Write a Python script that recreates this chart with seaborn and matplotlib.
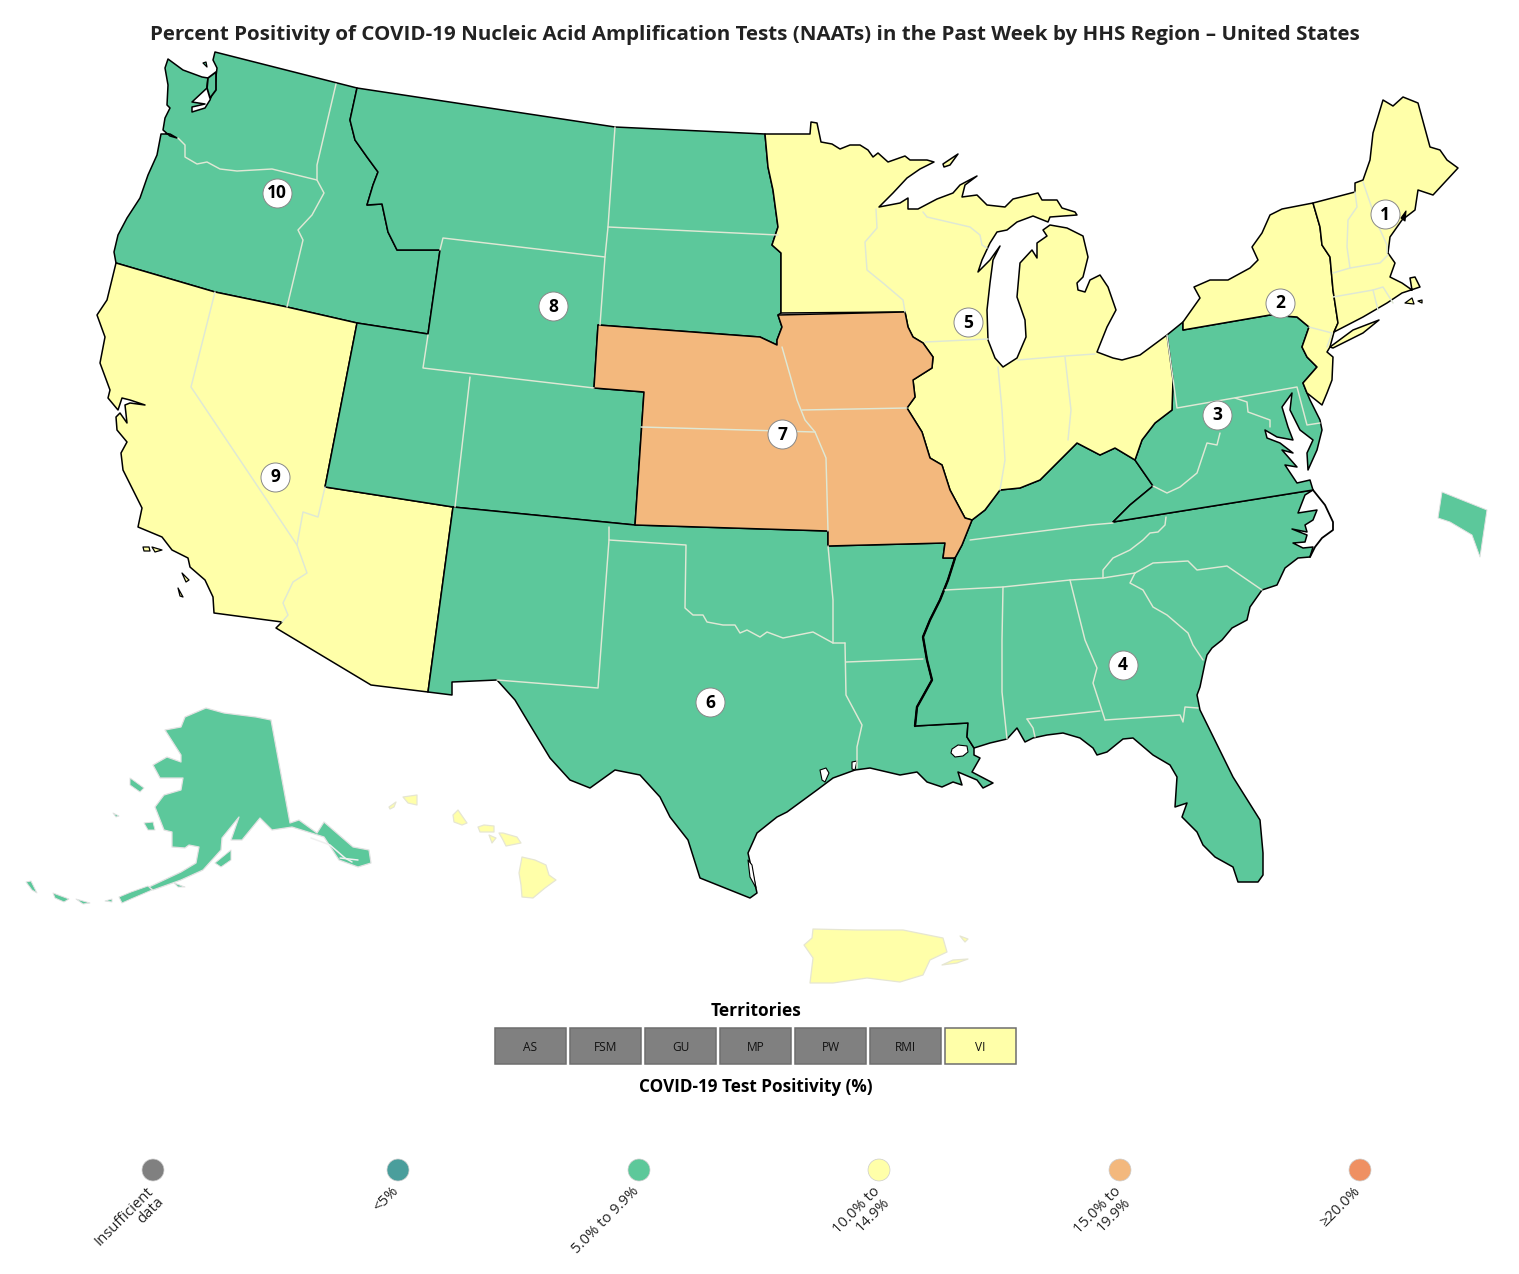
import matplotlib
matplotlib.use("Agg")
import matplotlib.pyplot as plt
from matplotlib.patches import Rectangle
import pandas as pd
import seaborn as sns

TITLE = "Percent Positivity of COVID-19 Nucleic Acid Amplification Tests (NAATs) in the Past Week by HHS Region – United States"
GREEN, YELLOW, ORANGE, GREY = "#5cc89b", "#ffffa9", "#f3b87d", "#808080"

# shared borders
nw_coast = [(116,263),(114,252),(118,235),(127,218),(140,198),(148,175),(157,155),(161,134),(170,134),(177,138),(170,136),(163,130),(165,118),(170,108),(167,105),(168,85),(165,68),(168,59),(183,70),(202,77),(208,78),(207,88),(192,102),(205,104),(192,107),(192,112),(205,108),(210,100),(215,85),(217,68),(213,60),(215,52)]
id_mt = [(357,88),(350,120),(355,140),(367,157),(378,172),(373,185),(367,205),(382,204),(388,232),(397,250),(428,250),(440,250)]
r10_south = [(428,334),(357,323),(287,307),(215,292),(116,263)]
sd_east = [(765,134),(768,167),(773,190),(778,227),(772,245),(781,253),(781,313)]
ne_north = [(598,325),(760,337),(777,345)]
ia_nw = [(777,345),(777,340),(782,327),(778,315)]
mo_east = [(905,312),(908,327),(913,337),(923,343),(933,357),(932,368),(913,380),(915,397),(907,408),(922,432),(930,458),(942,465),(950,490),(965,518),(972,520)]
bootheel = [(972,520),(962,545),(955,558),(943,558),(945,543)]
ohio_river = [(972,520),(985,510),(1000,490),(1020,488),(1040,480),(1060,460),(1077,443),(1100,455),(1115,448),(1135,460)]
ky_va = [(1135,460),(1153,486),(1130,505),(1113,522)]
va_nc = [(1113,522),(1313,490)]
miss_river = [(955,558),(948,580),(940,600),(930,620),(923,637),(927,660),(932,680),(917,707),(915,726)]
wv_oh = [(1135,460),(1142,440),(1155,423),(1172,410),(1173,380),(1167,335)]
pa_ny = [(1183,322),(1183,330),(1270,315),(1297,317),(1309,327)]
pa_nj = [(1309,327),(1302,347),(1307,357),(1317,367),(1303,383),(1307,393)]
ne_west = [(1313,203),(1320,227),(1322,245),(1330,257),(1333,290),(1338,323),(1334,332)]

mn_north = [(765,134),(810,134),(811,122),(817,123),(821,142),(832,144),(840,149),(850,145),(860,145),(868,150),(873,157),(878,153),(888,162),(905,156),(910,160),(927,160),(934,162),(920,169),(907,178),(893,193),(879,207)]
great_lakes = [(900,203),(908,198),(908,209),(918,209),(937,199),(953,193),(960,185),(977,176),(965,185),(962,197),(977,195),(987,205),(1005,207),(1013,199),(1038,193),(1042,200),(1057,200),(1062,208),(1075,212),(1077,215),(1050,217),(1048,222),(1033,216),(1017,222),(1007,230),(997,232),(990,243),(982,260),(978,272),(990,260),(1000,246),(993,260),(990,283),(987,310),(988,340),(995,358),(1003,367),(1017,358),(1026,337),(1025,320),(1017,297),(1020,263),(1032,250),(1037,258),(1037,243),(1047,236),(1043,230),(1050,225),(1067,228),(1083,236),(1088,257),(1083,277),(1077,283),(1078,290),(1085,292),(1090,280),(1100,275),(1108,287),(1116,310),(1107,327),(1097,352),(1113,358),(1122,360),(1140,355),(1167,335)]
isle_royale = [(943,164),(958,154),(950,165),(944,167)]

ca_coast = [(116,263),(107,300),(97,315),(105,337),(100,363),(110,390),(108,398),(118,410),(122,398),(130,400),(145,405),(130,403),(125,405),(127,423),(120,413),(116,417),(117,430),(127,442),(121,453),(123,470),(138,500),(142,508),(138,527),(162,537),(172,550),(188,558),(190,567),(205,580),(213,597),(214,613),(282,622),(276,628)]
gulf_tx_la = [(968,723),(967,737),(974,748),(974,755),(980,758),(972,772),(993,783),(983,788),(977,780),(958,772),(962,785),(953,782),(942,787),(927,782),(917,772),(900,775),(870,768),(855,770),(833,778),(817,790),(787,812),(777,817),(757,833),(748,853),(757,893),(750,898),(730,890),(700,878),(688,840),(670,817),(660,797),(640,775),(615,770),(590,788),(570,780),(550,758),(530,725),(515,700),(497,680),(452,682),(452,695),(428,692)]
se_coast = [(1313,490),(1305,495),(1298,513),(1317,510),(1313,520),(1305,525),(1307,532),(1292,529),(1307,535),(1305,542),(1293,543),(1303,548),(1313,547),(1310,557),(1298,558),(1285,568),(1277,585),(1262,590),(1250,607),(1247,620),(1232,628),(1222,640),(1212,648),(1207,655),(1205,663),(1200,687),(1197,695),(1200,710),(1233,777),(1260,820),(1263,853),(1263,875),(1258,882),(1238,882),(1233,867),(1215,857),(1203,845),(1197,832),(1182,817),(1187,803),(1175,807),(1177,777),(1170,765),(1153,755),(1133,738),(1123,739),(1107,752),(1097,755),(1093,748),(1080,738),(1063,733),(1047,735),(1033,738),(1025,742),(1017,728),(1007,739),(990,743),(974,748),(967,737),(968,723)]
outer_banks = [(1313,490),(1325,505),(1333,522),(1333,530),(1322,538),(1315,547),(1310,557)]
lake_pontchartrain = [(952,749),(958,745),(967,746),(968,752),(963,756),(955,757),(951,753)]
galveston_bay = [(820,770),(826,768),(829,773),(825,782),(822,780)]
sabine_lake = [(852,762),(857,761),(855,770),(852,769)]
padre_lagoon = [(748,860),(752,865),(756,888),(750,877)]
ca_islands = [[(143,547),(149,547),(150,551),(144,551)],[(152,547),(162,550),(155,552)],[(182,573),(189,580),(186,582)],[(178,588),(183,597),(180,596)]]
wa_island = [(203,63),(206,62),(207,67)]
puget_islands = [(208,78),(216,72),(216,90),(210,98),(207,88)]

ny_nj = [(1183,322),(1200,298),(1194,287),(1210,280),(1228,280),(1250,268),(1258,260),(1252,247),(1262,233),(1270,215),(1282,209)]
nj_coast = [(1334,332),(1330,347),(1327,352),(1333,357),(1332,380),(1327,393),(1322,405)]
long_island = [(1330,347),(1353,330),(1379,320),(1363,333),(1333,348)]
new_england = [(1363,317),(1387,303),(1402,293),(1420,287),(1415,277),(1410,278),(1412,290),(1402,283),(1390,277),(1395,263),(1388,253),(1390,237),(1402,220),(1415,210),(1418,190),(1433,195),(1458,168),(1447,160),(1440,150),(1430,147),(1418,103),(1403,97),(1393,106),(1383,100),(1373,133),(1370,160),(1363,180),(1355,183),(1355,192)]
ne_islands = [[(1405,303),(1412,298),(1414,304)],[(1418,301),(1422,300),(1422,303)]]
penobscot = [(1401,218),(1406,211),(1405,221)]
mid_atlantic = [(1310,400),(1320,420),(1322,430),(1317,450),(1308,470),(1307,453),(1313,440),(1300,430),(1290,410),(1292,393),(1282,407),(1288,427),(1293,440),(1277,437),(1265,430),(1267,438),(1280,443),(1293,453),(1282,450),(1297,467),(1285,465),(1297,483),(1310,480)]

region10 = nw_coast + id_mt + r10_south
region9 = ca_coast + [(371,685),(428,692),(453,507),(325,487),(357,323),(287,307),(215,292)]
region8 = [(357,88),(615,127)] + sd_east + ia_nw[::-1] + ne_north[::-1] + [(594,388),(644,392),(635,525),(453,507),(325,487),(357,323),(428,334),(440,250)] + id_mt[::-1]
region7 = ne_north + ia_nw + mo_east + bootheel[1:] + [(828,546),(828,531),(635,525),(644,392),(594,388)]
region6 = [(453,507),(635,525),(828,531),(828,546),(945,543),(943,558)] + miss_river + gulf_tx_la
region5 = mn_north + great_lakes + wv_oh[::-1] + ohio_river[::-1] + mo_east[::-1] + sd_east[::-1]
region4 = se_coast + [(915,726)] + miss_river[::-1] + [(962,545)] + ohio_river + ky_va
region3 = pa_ny + pa_nj + mid_atlantic + va_nc[::-1] + ky_va[::-1][:-1] + wv_oh
region2 = ny_nj + ne_west + nj_coast + pa_nj[::-1] + pa_ny[::-1]
region1 = ne_west + new_england

alaska = [(271,720),(290,823),(299,820),(317,833),(324,822),(353,847),(369,850),(371,863),(358,867),(339,860),(324,837),(292,827),(272,830),(260,818),(242,840),(231,840),(239,817),(222,838),(221,850),(203,870),(181,880),(153,890),(149,887),(181,872),(196,863),(199,847),(189,845),(185,848),(172,847),(172,832),(164,830),(155,807),(164,795),(181,790),(183,778),(160,778),(153,765),(167,757),(181,762),(181,755),(165,730),(181,727),(185,717),(206,708),(224,713),(256,717)]
alaska_islands = [
    [(130,778),(133,780),(144,788),(140,792),(130,785)],
    [(144,823),(153,822),(155,830),(148,830)],
    [(215,863),(231,850),(231,860),(221,867)],
    [(53,893),(69,899),(64,902),(55,898)],
    [(76,899),(90,903),(83,904)],
    [(119,897),(131,892),(148,886),(152,890),(131,899),(122,903)],
    [(26,882),(31,881),(37,893),(32,890)],
    [(174,883),(185,887),(178,887)],
    [(105,901),(112,899),(112,902)],
    [(113,813),(119,816),(116,817)],
]
alaska_channels = [[(311,838),(330,845),(345,858),(352,862)],[(340,858),(358,860)]]
hawaii = [
    [(522,857),(535,860),(546,865),(549,875),(556,880),(545,888),(533,898),(522,897),(521,885),(519,873)],
    [(499,833),(503,833),(517,837),(521,843),(506,846),(503,840)],
    [(478,827),(484,825),(494,826),(494,832),(480,832)],
    [(489,835),(496,838),(492,843)],
    [(453,815),(458,810),(467,823),(462,825),(454,822)],
    [(403,797),(417,795),(417,805),(408,803)],
    [(389,807),(396,802),(394,807),(390,809)],
]
puerto_rico = [
    [(813,929),(857,930),(903,930),(943,938),(947,952),(930,960),(923,975),(900,982),(867,978),(833,983),(810,983),(813,958),(804,945),(812,938)],
    [(942,965),(953,960),(968,959),(957,963)],
    [(960,936),(968,939),(965,942)],
]
dc_inset = [(1442,492),(1487,510),(1480,557),(1472,535),(1450,522),(1438,518)]

state_lines = [
    [(178,138),(185,145),(185,157),(197,164),(207,162),(220,169),(237,171),(272,169),(317,180)],
    [(317,180),(324,193),(312,215),(298,230),(303,240),(287,307)],
    [(336,84),(317,165),(317,179)],
    [(215,292),(191,387),(297,545),(307,573),(293,582),(283,603),(288,615),(282,622)],
    [(325,487),(318,517),(303,512),(297,545)],
    [(615,127),(608,227),(605,257),(600,325)],
    [(608,227),(778,235)],
    [(440,250),(443,238),(605,257)],
    [(428,335),(423,368),(594,388)],
    [(470,377),(455,507)],
    [(641,427),(815,432)],
    [(782,347),(790,375),(797,400),(805,420),(815,432),(826,458),(828,531)],
    [(802,410),(907,408)],
    [(609,527),(609,540),(598,688),(497,680)],
    [(609,540),(686,545),(685,608),(693,615),(703,615),(707,622),(723,625),(735,625),(740,633),(747,630),(760,637),(767,632),(783,638),(813,632),(833,643),(845,643)],
    [(828,546),(833,600),(833,643)],
    [(846,662),(923,659)],
    [(845,643),(846,695),(862,725),(857,747),(857,768)],
    [(945,590),(1003,587),(1070,580),(1103,578),(1135,573)],
    [(970,540),(1090,525),(1113,523)],
    [(1166,517),(1165,525),(1158,532),(1150,533),(1143,540),(1130,550),(1113,558),(1103,570),(1103,578)],
    [(1003,587),(1002,640),(1002,692),(1007,739)],
    [(1070,580),(1085,640),(1097,668),(1093,683),(1105,720)],
    [(1027,719),(1100,711)],
    [(1027,719),(1033,728),(1035,737)],
    [(1105,720),(1180,715),(1183,722),(1185,707),(1198,708)],
    [(1135,573),(1153,563),(1188,561),(1197,570),(1227,566),(1262,590)],
    [(1135,573),(1130,583),(1143,590),(1153,607),(1167,615),(1188,633),(1193,645),(1203,660)],
    [(1167,335),(1177,408),(1297,387),(1307,425),(1320,423)],
    [(1235,398),(1247,402),(1248,412),(1270,420),(1270,427)],
    [(1220,433),(1217,445),(1207,443),(1197,473),(1180,487),(1167,493),(1153,486)],
    [(925,342),(988,339)],
    [(923,212),(927,217),(970,227),(980,235),(982,245),(987,248)],
    [(876,209),(877,228),(865,242),(867,270),(883,283),(903,300),(905,312)],
    [(998,367),(1002,410),(1005,460),(1000,490)],
    [(1065,357),(1071,410),(1068,440)],
    [(1018,360),(1065,356),(1095,354)],
    [(1355,192),(1357,207),(1348,220),(1347,247),(1350,268)],
    [(1333,273),(1350,268),(1380,263),(1388,255)],
    [(1363,182),(1377,223),(1387,245),(1387,253)],
    [(1333,297),(1373,290),(1383,287),(1393,303)],
    [(1373,290),(1378,310)],
    [(1309,327),(1332,333),(1327,347)],
]

region_ids = ["1","2","3","4","5","6","7","8","9","10"]
region_x = [1385,1280,1217,1123,968,710,782,553,275,277]
region_y = [214,303,415,665,322,702,434,306,477,193]

territories = ["AS","FSM","GU","MP","PW","RMI","VI"]
territory_colors = [GREY,GREY,GREY,GREY,GREY,GREY,YELLOW]
territory_x = [495,570,645,720,795,870,945]

legend_labels = ["Insufficient\ndata","<5%","5.0% to 9.9%","10.0% to\n14.9%","15.0% to\n19.9%","≥20.0%"]
legend_colors = ["#808080","#4a9e9c","#5dc89a","#ffffa9","#f3b87d","#ef9062"]
legend_x = [153,398,639,879,1120,1360]
legend_y = [1170]*6

sns.set_theme(style="white")
plt.rcParams["font.family"] = ["Open Sans","DejaVu Sans"]

fig = plt.figure(figsize=(15.19,12.74), dpi=100, facecolor="white")
ax = fig.add_axes([0,0,1,1])
ax.set_xlim(0,1519); ax.set_ylim(1274,0); ax.axis("off")

def poly(points, color, edge="black", lw=1.1, z=2):
    xs, ys = zip(*points)
    ax.fill(xs, ys, facecolor=color, edgecolor=edge, linewidth=lw, joinstyle="round", zorder=z)

for p, c in [(region10,GREEN),(region9,YELLOW),(region8,GREEN),(region6,GREEN),(region4,GREEN),(region3,GREEN),(region5,YELLOW),(region7,ORANGE),(region2,YELLOW),(long_island,YELLOW),(region1,YELLOW),(isle_royale,YELLOW)]:
    poly(p, c)
for p in ca_islands + ne_islands:
    poly(p, YELLOW, lw=0.9)
poly(wa_island, GREEN, lw=0.9)
poly(puget_islands, GREEN, lw=1.3)
poly(penobscot, "black", lw=0.8)
for p in [lake_pontchartrain, galveston_bay, sabine_lake, padre_lagoon]:
    poly(p, "white", lw=0.8, z=2.5)

for border, width in [(miss_river,1.7),(outer_banks,1.3)]:
    xs, ys = zip(*border)
    ax.plot(xs, ys, color="black", lw=width, zorder=2.6)

for line in state_lines:
    xs, ys = zip(*line)
    ax.plot(xs, ys, color="#dfe8d5", lw=1.05, zorder=3, solid_capstyle="round")

poly(alaska, GREEN, edge="#e2e2e2", lw=0.9)
for p in alaska_islands:
    poly(p, GREEN, edge="#e2e2e2", lw=0.7)
for line in alaska_channels:
    xs, ys = zip(*line)
    ax.plot(xs, ys, color="#f0f0f0", lw=1.1, zorder=3)
for p in hawaii + puerto_rico:
    poly(p, YELLOW, edge="#e6e6d2", lw=0.9)
poly(dc_inset, GREEN, edge="#e2e2e2", lw=0.7)

regions = pd.DataFrame({"id":region_ids,"x":region_x,"y":region_y})
sns.scatterplot(data=regions, x="x", y="y", s=436, color="white", edgecolor="#888888", linewidth=0.7, ax=ax, zorder=5, legend=False)
for _, r in regions.iterrows():
    ax.text(r.x, r.y+0.5, r.id, ha="center", va="center", fontsize=12.5, fontweight="bold", color="black", zorder=6)

ax.text(755, 35, TITLE, ha="center", va="center", fontsize=14.74, fontweight="bold", color="#222222")
ax.text(756, 1011.5, "Territories", ha="center", va="center", fontsize=12.5, fontweight="bold", color="black")
ax.text(756, 1087.5, "COVID-19 Test Positivity (%)", ha="center", va="center", fontsize=12.3, fontweight="bold", color="black")

for name, col, x0 in zip(territories, territory_colors, territory_x):
    ax.add_patch(Rectangle((x0,1028), 70.5, 36, facecolor=col, edgecolor="#6e6e6e", lw=1.1, zorder=2))
    ax.text(x0+35.5, 1047.5, name, ha="center", va="center", fontsize=8.6, color="#111111", zorder=3)

legend = pd.DataFrame({"label":legend_labels,"x":legend_x,"y":legend_y})
sns.scatterplot(data=legend, x="x", y="y", hue="label", palette=dict(zip(legend_labels,legend_colors)), s=250, edgecolor="#cccccc", linewidth=0.5, ax=ax, legend=False, zorder=4)
for lab, x, y in zip(legend_labels, legend_x, legend_y):
    ax.text(x-7, y+14, lab, rotation=45, rotation_mode="anchor", ha="right", va="top", multialignment="right", fontsize=10.6, linespacing=1.0, color="#222222")

ax.set_xlabel(""); ax.set_ylabel("")
ax.set_xlim(0,1519); ax.set_ylim(1274,0)
fig.savefig("out.png", dpi=100, facecolor="white")
